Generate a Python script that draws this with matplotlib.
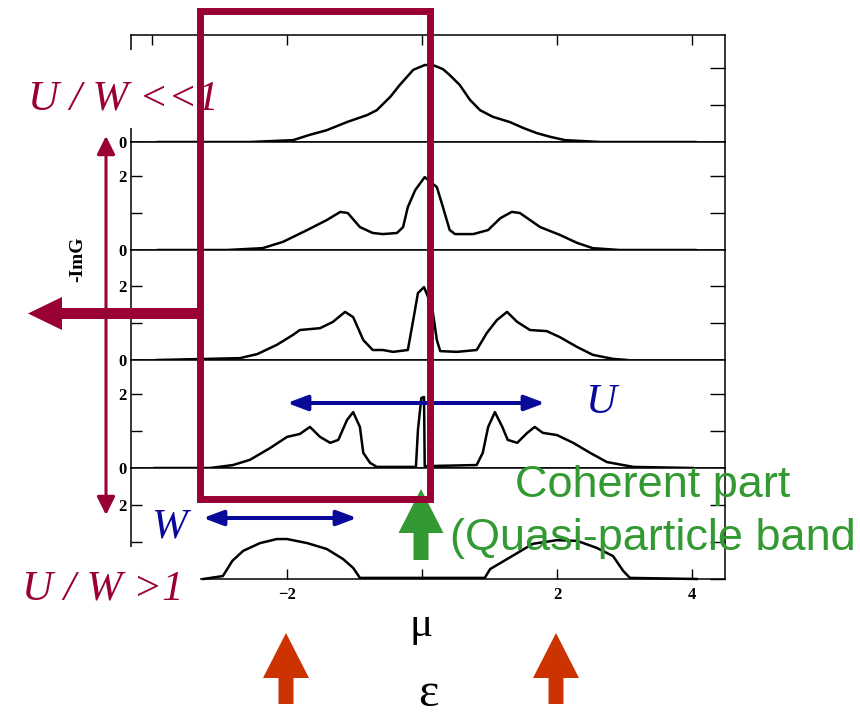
import matplotlib.pyplot as plt
from matplotlib.patches import Rectangle, FancyArrow

# spectral functions, top panel (U/W<<1) to bottom (U/W>1)
x1 = [-3.91, -2.55, -1.91, -1.67, -1.41, -1.11, -0.81, -0.67, -0.47, -0.33, -0.13,
      0.04, 0.16, 0.31, 0.41, 0.56, 0.71, 0.86, 1.05, 1.30, 1.50, 1.70, 1.90, 2.12, 2.64, 4.05]
y1 = [0, 0, 0.05, 0.19, 0.32, 0.54, 0.73, 0.86, 1.22, 1.54, 1.95,
      2.08, 2.08, 1.97, 1.81, 1.54, 1.14, 0.86, 0.68, 0.54, 0.38, 0.24, 0.14, 0.05, 0, 0]

x2 = [-3.91, -2.89, -2.36, -2.06, -1.70, -1.41, -1.21, -1.10, -0.92, -0.73, -0.58, -0.37,
      -0.28, -0.21, -0.10, 0.04, 0.22, 0.31, 0.41, 0.49, 0.76, 0.98, 1.16, 1.33, 1.45,
      1.75, 2.04, 2.30, 2.53, 2.93, 4.05]
y2 = [0, 0, 0.05, 0.22, 0.54, 0.81, 1.03, 1.00, 0.62, 0.46, 0.43, 0.46,
      0.62, 1.16, 1.62, 1.97, 1.70, 1.16, 0.54, 0.43, 0.43, 0.54, 0.86, 1.03, 1.00,
      0.62, 0.41, 0.19, 0.05, 0, 0]

x3 = [-3.93, -2.70, -2.44, -2.15, -1.91, -1.81, -1.51, -1.32, -1.14, -1.02, -0.87, -0.73,
      -0.58, -0.43, -0.21, -0.13, -0.06, 0.03, 0.15, 0.22, 0.27, 0.52, 0.81, 0.96, 1.11,
      1.26, 1.41, 1.60, 1.85, 2.04, 2.30, 2.53, 2.83, 3.04]
y3 = [0, 0.05, 0.16, 0.41, 0.68, 0.81, 0.86, 1.03, 1.30, 1.16, 0.54, 0.27,
      0.27, 0.22, 0.27, 1.08, 1.81, 1.97, 1.43, 0.54, 0.24, 0.22, 0.27, 0.73, 1.08,
      1.30, 1.03, 0.81, 0.78, 0.62, 0.35, 0.14, 0.03, 0]

x4 = [-3.96, -3.14, -2.80, -2.55, -2.25, -2.00, -1.81, -1.66, -1.51, -1.36, -1.24, -1.11,
      -1.02, -0.92, -0.87, -0.77, -0.67, -0.09, -0.06, -0.01, 0.03, 0.04, 0.81, 0.90,
      0.98, 1.08, 1.19, 1.27, 1.41, 1.56, 1.67, 1.79, 2.00, 2.24, 2.49, 2.74, 3.13, 4.01]
y4 = [0, 0, 0.08, 0.22, 0.54, 0.84, 0.92, 1.11, 0.84, 0.68, 0.76, 1.30,
      1.51, 1.11, 0.41, 0.14, 0.03, 0.03, 1.03, 1.89, 1.92, 0.05, 0.08, 0.41,
      1.11, 1.51, 1.11, 0.76, 0.68, 0.95, 1.11, 0.95, 0.89, 0.68, 0.41, 0.16, 0.03, 0]

x5 = [-3.24, -2.95, -2.81, -2.65, -2.40, -2.15, -2.00, -1.70, -1.41, -1.17, -1.02, -0.92,
      0.93, 1.01, 1.16, 1.41, 1.64, 2.00, 2.30, 2.59, 2.83, 2.98, 3.08, 4.07]
y5 = [0, 0.08, 0.49, 0.76, 0.97, 1.08, 1.08, 0.97, 0.81, 0.54, 0.30, 0.03,
      0.03, 0.27, 0.43, 0.70, 0.95, 1.05, 1.03, 0.84, 0.62, 0.22, 0.03, 0]

panels = [(x1, y1), (x2, y2), (x3, y3), (x4, y4), (x5, y5)]

xtick_top = [-4, -2, 0, 2, 4]
xtick_pos = [-2, 0, 2, 4]
xtick_lab = ['\u22122', '', '2', '4']
ytick_pos = [0, 2]
# left labels hidden behind the slide text in the top and bottom panels
ytick_labs = [['0', ''], ['0', '2'], ['0', '2'], ['0', '2'], ['', '2']]

crimson = '#990033'
navy = '#0a0a9a'
green = '#339933'
orange = '#cc3300'
serif = 'Liberation Serif'
sans = 'Liberation Sans'

W, H = 860, 716
fig = plt.figure(figsize=(W / 100, H / 100), dpi=100)

left, right = 131, 725
tops = [35, 142, 250, 360, 468]
bots = [142, 250, 360, 468, 579]
unit = 37.0  # px per unit of -ImG
x0, xs = 422, 67.5  # px of energy 0, px per unit
xlim = ((left - x0) / xs, (right - x0) / xs)

for i, (xx, yy) in enumerate(panels):
    ax = fig.add_axes([left / W, 1 - bots[i] / H, (right - left) / W, (bots[i] - tops[i]) / H])
    ax.plot(xx, yy, color='k', lw=1.8, solid_joinstyle='round', clip_on=False)
    ax.set_xlim(*xlim)
    ax.set_ylim(0, (bots[i] - tops[i]) / unit)
    ax.set_yticks(ytick_pos)
    ax.set_yticklabels(ytick_labs[i], family=serif, fontweight='bold', fontsize=12)
    ax.set_yticks([1], minor=True)
    ax.tick_params(axis='y', which='both', direction='in', left=True, right=True,
                   length=8, width=1, pad=3)
    # right-hand ticks are a bit longer in the original
    for t in ax.yaxis.get_major_ticks() + ax.yaxis.get_minor_ticks():
        t.tick2line.set_markersize(11)
    if i == 0:
        ax.set_xticks(xtick_top)
        ax.tick_params(axis='x', direction='in', top=True, bottom=False,
                       labelbottom=False, length=7, width=1)
    elif i == 4:
        ax.set_xticks(xtick_pos)
        ax.set_xticklabels(xtick_lab, family=serif, fontweight='bold', fontsize=12)
        ax.tick_params(axis='x', direction='in', top=False, bottom=True,
                       length=7, width=1, pad=6)
    else:
        ax.set_xticks([])
    for s in ax.spines.values():
        s.set_linewidth(1.1)

# overlay in pixel coordinates for the slide annotations
ov = fig.add_axes([0, 0, 1, 1], zorder=10)
ov.set_xlim(0, W)
ov.set_ylim(H, 0)
ov.axis('off')
ov.patch.set_alpha(0)

ov.add_patch(Rectangle((0, 50), 190, 78, fc='white', ec='none', zorder=1))
ov.add_patch(Rectangle((0, 547), 200, 66, fc='white', ec='none', zorder=1))

ov.text(78, 259, '-ImG', rotation=90, ha='center', va='center', family=serif,
        fontweight='bold', fontsize=14, zorder=2)
ov.text(28, 110, 'U / W <<1', color=crimson, fontsize=31, fontstyle='italic',
        family=serif, va='baseline', zorder=3)
ov.text(22, 600, 'U / W >1', color=crimson, fontsize=31, fontstyle='italic',
        family=serif, va='baseline', zorder=3)
ov.text(151, 538, 'W', color=navy, fontsize=31, fontstyle='italic',
        family=serif, va='baseline', zorder=3)
ov.text(585, 413, 'U', color=navy, fontsize=31, fontstyle='italic',
        family=serif, va='baseline', zorder=3)
ov.text(515, 497, 'Coherent part', color=green, fontsize=32.5, family=sans,
        va='baseline', zorder=3)
ov.text(450, 550, '(Quasi-particle band', color=green, fontsize=32.5, family=sans,
        va='baseline', zorder=3)
ov.text(421, 636, '\u03bc', ha='center', va='baseline', fontsize=31, family=serif, zorder=3)
ov.text(428, 706, '\u03b5', ha='center', va='baseline', fontsize=35, family=serif, zorder=3)

# arrows
ov.add_patch(FancyArrow(200, 313.5, -172, 0, width=11, head_width=33, head_length=34,
                        length_includes_head=True, color=crimson, lw=0, zorder=4))
ov.add_patch(FancyArrow(421, 560, 0, -71, width=15, head_width=45, head_length=44,
                        length_includes_head=True, color=green, lw=0, zorder=4))
for xa in (286, 556):
    ov.add_patch(FancyArrow(xa, 704, 0, -71, width=15, head_width=46, head_length=45,
                            length_includes_head=True, color=orange, lw=0, zorder=4))

ov.annotate('', xy=(106, 136), xytext=(106, 515),
            arrowprops=dict(arrowstyle='<|-|>,head_length=1.1,head_width=0.55',
                            mutation_scale=10, color=crimson, lw=2.2,
                            shrinkA=0, shrinkB=0), zorder=4)
ov.annotate('', xy=(357, 518), xytext=(203, 518),
            arrowprops=dict(arrowstyle='<|-|>,head_length=1.2,head_width=0.45',
                            mutation_scale=10, color=navy, lw=2.9,
                            shrinkA=0, shrinkB=0), zorder=4)
ov.annotate('', xy=(545, 403), xytext=(287, 403),
            arrowprops=dict(arrowstyle='<|-|>,head_length=1.2,head_width=0.45',
                            mutation_scale=10, color=navy, lw=2.9,
                            shrinkA=0, shrinkB=0), zorder=4)

ov.add_patch(Rectangle((200, 11), 230, 488, fill=False, ec=crimson, lw=5, zorder=6))

fig.savefig('out.png', dpi=100)
